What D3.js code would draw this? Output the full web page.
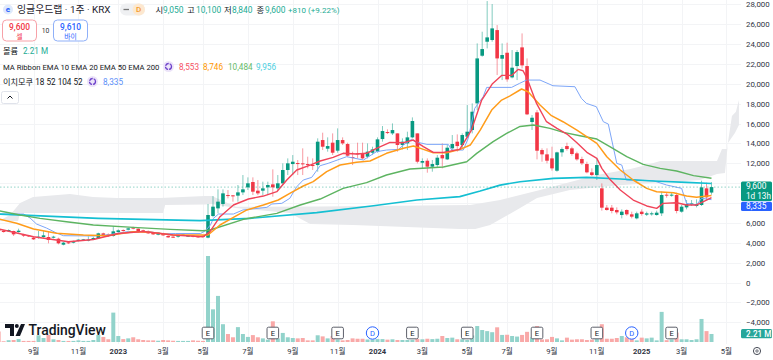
<!DOCTYPE html>
<html><head><meta charset="utf-8">
<script src="https://cdn.jsdelivr.net/npm/d3@7"></script>
<style>
html,body{margin:0;padding:0;background:#fff;overflow:hidden}
svg{display:block}
text{font-family:Roboto,'Noto Sans CJK KR',sans-serif}
</style></head><body>
<svg id="c" width="773" height="360"></svg>
<script>
// [open, high, low, close] per weekly bar
const candles=[
[5300,5400,5200,5250],[5215,5280,5015,5080],[5150,5350,5080,5280],[5180,5215,4678,4846],[5080,5416,5015,5215],[4846,4900,4580,4712],[4745,4780,4580,4645],[4510,4580,4276,4343],[4477,5180,4410,4610],[4578,5180,4510,4745],
[4578,5180,3940,4276],[4510,4700,4440,4610],[4410,4510,3840,3941],[3806,4075,3740,4008],[4041,4075,3870,3941],[4008,4210,3940,4176],[4176,4343,4140,4310],[4276,4380,4210,4343],[4243,4650,4140,4310],[4343,4610,4276,4477],
[4444,5013,4410,4946],[4946,5013,4610,4678],[4846,4946,4578,4678],[4678,5684,4610,5147],[5080,5350,5013,5248],[5280,5350,5113,5180],[5315,5516,5248,5449],[5550,5616,5350,5416],[5416,5450,5013,5080],[5248,5315,5080,5147],
[5180,5248,4880,4946],[5013,5080,4780,4846],[4812,5080,4745,5013],[4946,5013,4678,4745],[4678,4745,4477,4544],[4610,4678,4477,4544],[4610,4780,4510,4712],[4745,4880,4678,4812],[4645,4780,4578,4712],[4712,4780,4544,4610],
[4645,4712,4477,4544],[4712,4780,4510,4578],[4512,7900,4445,6792],[6690,8700,6560,7630],[7460,9375,6960,8135],[7900,9375,7630,8970],[8800,9305,8470,8700],[8770,8800,8135,8700],[8740,9810,8135,9070],[9070,10815,8800,9375],
[9575,10580,9305,9980],[10110,10580,8800,9140],[9240,10310,8800,8970],[9240,10145,8800,9475],[9575,10145,8800,9810],[9875,11385,8635,9575],[9475,10815,9305,9980],[9980,11990,9810,11320],[11320,12490,10815,11990],[11920,12825,10815,12155],
[12020,12325,10815,11955],[11990,13500,10815,11920],[11920,12660,11485,11855],[11820,12490,11320,11755],[11820,14505,11150,14170],[14335,15075,13330,13665],[13465,14605,13165,13730],[14070,15005,12825,13060],[13265,15510,13060,14335],[14335,14605,13835,14000],
[13935,14070,12660,12760],[12625,13165,11820,12560],[12995,14070,12490,12930],[12995,14070,12390,12490],[12660,14000,12490,13165],[13060,13665,12825,13395],[13165,14605,13060,14405],[14435,15745,14170,15240],[15140,15410,14940,15040],[15005,16010,14840,15340],
[15005,15005,13165,13835],[13835,14505,13395,14170],[14000,15175,13330,14605],[14605,16615,14505,16250],[15005,15005,11990,12155],[12055,12490,11485,12225],[12255,12490,11050,11655],[11655,12325,11150,11920],[11820,12825,11555,12560],[12825,14000,11485,12490],
[12390,13835,12325,13565],[13500,14840,13165,13935],[14170,14905,13165,13730],[13830,15005,13500,14840],[14670,17857,14500,15175],[15343,18025,15005,17187],[18025,24060,17355,22550],[22820,25235,22720,23490],[24230,28320,23560,24665],[24400,28020,24230,25570],
[25400,25905,20875,22550],[22520,24060,20370,22890],[23120,24130,20205,20440],[20640,23390,20540,21615],[21780,23390,20370,23190],[23660,25065,21545,21850],[21780,22550,16850,16920],[16150,16850,15345,16580],[17120,17355,12390,13260],[13330,13500,12155,12895],
[12895,13500,11990,12255],[12490,13665,11250,11485],[11250,13160,11150,13095],[13095,13600,12660,13430],[13730,14070,13265,13430],[13500,13665,12760,12930],[12995,13160,12255,12390],[12425,12660,11820,11990],[11920,12155,10985,11085],[11085,11485,10715,10815],
[10815,12490,10315,11820],[9475,9975,7228,7530],[7530,7800,7228,7295],[7530,7800,6960,7195],[7295,7560,6860,7060],[6790,7360,6455,7128],[7295,7360,6725,6860],[6860,7128,6455,6625],[6455,7128,6355,6960],[7128,7360,6725,6890],
[6825,7128,6690,6960],[6860,7128,6725,6960],[6790,7228,6725,7028],[6960,9140,6690,8804],[8838,9040,8535,8737],[8770,9040,8636,8838],[8804,9040,6960,7195],[7128,7800,7028,7630],[7560,8300,7360,7900],[7830,8300,7700,7965],
[7700,8370,7560,7900],[7800,10245,7700,9575],[9475,10045,8300,8570],[9050,10100,8840,9600]
];
// volume in millions per weekly bar
const volumes=[2.9,.2,.5,.55,.8,.3,.3,.3,1.85,1.1,2,.75,.55,.3,.3,.3,.45,.3,.3,.55,1.95,1.4,.75,8.1,1.65,.8,1,1.3,.75,.55,.45,.45,.35,.55,.45,.35,.3,.3,.3,.45,.35,.3,
23.7,9,12.7,4.9,2.2,1.3,4.1,2.2,1.4,1.9,1.3,1,.65,5.7,1,2.5,1.3,1.1,1,1.1,.45,.45,1.85,1.55,1,1.65,.7,.45,.55,1,.9,.9,.7,.7,.8,.8,.65,.75,.55,.55,.55,.6,.8,.75,.9,.8,.9,1.65,1.1,1.2,.75,.75,.55,1.8,
4.4,3.3,3,2.7,4.05,1.95,2,1.65,1.5,1.95,2.8,1.3,4.4,.7,.75,1.4,1,.45,1.2,.65,.75,.75,.55,.65,.8,4.9,.9,.9,1.1,1.65,1.3,.8,.45,1.2,1,1.2,.45,8.3,.5,.7,2.6,.75,.75,.55,.75,6.35,3,2.21];

// line readings: [bar position, price]
const ema10=[[0,5380],[7,4607],[14,4105],[19,4330],[24,4930],[29,5130],[35,4780],[41,4607],[42.4,5116],[44.4,6625],[47.1,7800],[50.1,8400],[53.1,8700],[55.8,9140],[57.8,10310],[59.8,11320],[62.5,11820],[64.5,12225],[67.1,12590],[69.1,13000],[71.8,12930],[73.8,13000],[75.8,13500],[78.5,14100],[81.2,14070],[83.2,14335],[85.2,13665],[87.2,13095],[89.2,13095],[92.5,13400],[94.85,15340],[96.9,18360],[99,19970],[100.9,20840],[102.9,20840],[104.2,21445],[105.2,21310],[106,20540],[107.9,18025],[109.9,16180],[112,15510],[114,14940],[116,14068],[118,13095],[120,12490],[121,11486],[122.6,10380],[124.7,9307],[127.3,8300],[130,7700],[132,7460],[133.3,7965],[136,8030],[138,7800],[140,7800],[142,8300],[143,8553]];
const ema20=[[0,6388],[3.6,5955],[7,5380],[11.6,4950],[17,4780],[21.7,4710],[27,5110],[30.4,5050],[35,4780],[41,4780],[42,4780],[44.4,5785],[47.1,6560],[49.8,7300],[53.1,7800],[56.1,8300],[58.4,8970],[61.1,9710],[63.1,10145],[65.8,11150],[68.5,11820],[71.8,12090],[74.5,12225],[77.8,13000],[81.2,13500],[83.2,13730],[85.2,13400],[87.2,13060],[89.9,13060],[92.6,13400],[94.6,13830],[96.6,15340],[98.9,17355],[100.9,18360],[102.5,18760],[104.9,19470],[106.2,19200],[108.6,17860],[110.9,16785],[113.2,16180],[116,15340],[120,14000],[122,12660],[124.7,11320],[127.3,10315],[130,9475],[132,9140],[135.4,9040],[138,8700],[140,8570],[143,8746]];
const ema50=[[0,7220],[4.3,6790],[8.3,6455],[13.6,6120],[19,5785],[27,5550],[34.4,5350],[41,5210],[42.4,5280],[49.1,6360],[55.8,6960],[60.5,7800],[64.5,8400],[69.1,9475],[73.8,10045],[77.8,10815],[82.5,11420],[85.9,11520],[89.2,11620],[93.9,12155],[95.9,12995],[99.2,14170],[101.9,15005],[104.6,15700],[107.3,15845],[110.6,15510],[113.3,15107],[116.6,14770],[120,14437],[122.6,13666],[126,12660],[129.3,11890],[132.7,11486],[136,11218],[139.4,10750],[143,10484]];
const ema200=[[0,6890],[20,6455],[40.4,6222],[50.4,6457],[63.8,7027],[75.2,7730],[83.9,8300],[92.5,8640],[96.6,9200],[100.6,9800],[104.6,10145],[111.3,10480],[118,10580],[124.7,10413],[131.3,10212],[138,10078],[143,9956]];
const ichimoku=[[0,6890],[5,6890],[6.3,6490],[7.6,5885],[9.6,5480],[11.6,4980],[13,4710],[19,4680],[22,4800],[26,5130],[30,5130],[33,4900],[35.5,4930],[40.5,4930],[41.5,5210],[42.5,5800],[43.1,6457],[44.1,6890],[47.1,6890],[49,7300],[53.8,7560],[54.8,7900],[56.8,7965],[58.4,8470],[59.8,9640],[61.1,10310],[62.8,10580],[64.5,11755],[66.1,11990],[69.8,12660],[73.2,12325],[74.2,12660],[75.8,13165],[77.8,13330],[80.2,13395],[81.2,13835],[82.8,14400],[83.5,14170],[85.9,13900],[90.2,13900],[90.9,13330],[93.2,13330],[94.2,14500],[95.5,17520],[97.2,18700],[97.9,19635],[102.9,19635],[104.5,20040],[105.9,20370],[108.6,20370],[111.2,19800],[115.6,19700],[116.9,18530],[117.9,18025],[119.9,17690],[121.3,16180],[122.3,15945],[124,11990],[125,11820],[125.9,10315],[131.3,10245],[134,9810],[137,9475],[138,7965],[140,7800],[141,8470],[143,8335]];
const cloudUpper=[[0,6187],[2.3,6790],[4.3,7998],[6.9,8600],[14.3,8900],[18.9,8600],[23.7,8500],[32.4,8500],[41.4,8700],[42.8,8700],[47.6,7625],[64.5,7645],[94.6,7800],[100.6,8300],[108.6,9300],[120,10815],[126.7,11420],[130,11820],[132.7,12220],[144.1,12220],[145.1,13430],[146.1,13430],[147.1,16750],[147.9,17180],[148.5,18360]];
const cloudLower=[[0,6187],[3.9,6187],[4.3,6990],[33,6990],[33.4,7800],[41.4,7850],[42.8,7900],[47.6,7495],[58.4,6990],[62.5,5885],[71.1,5785],[80.5,5613],[92.5,5380],[95.6,5380],[98.6,5785],[104.6,7495],[108,8500],[114.6,9305],[122.6,9708],[130.7,10010],[140.7,10310],[144.1,10915],[145.7,11016],[146.3,14030],[147.7,15040],[148.5,15840]];

const priceTicks=d3.range(-4000,28001,2000);
const coveredTicks=[8000,10000]; // hidden behind the price badges in the reference
const monthTicks=[[7,"9월"],[16,"11월"],[24,"2023"],[33,"3월"],[41,"5월"],[50,"7월"],[59,"9월"],[68,"11월"],[76,"2024"],[85,"3월"],[94,"5월"],[102,"7월"],[111,"9월"],[120,"11월"],[129,"2025"],[137,"3월"],[146,"5월"]];
const earnings=[42,55,68,83,94,108,120,135];
const dividends=[75,127];
const lastClose=9600, lastIchi=8335, lastVol=2.21;

const GREEN="#089981",RED="#f23645";
const svg=d3.select("#c");
const x=d3.scaleLinear().domain([0,143]).range([-1.35,711.5]);
const y=d3.scaleLinear().domain([-4000,28000]).range([322.25,4.25]);
const v=d3.scaleLinear().domain([0,23.7]).range([342,256]);
const line=d3.line().x(d=>x(d[0])).y(d=>y(d[1]));

// grid
const grid=svg.append("g").attr("stroke","#f3f4f6").attr("stroke-width",1);
grid.selectAll(".h").data(priceTicks).join("line").attr("x1",0).attr("x2",741)
  .attr("y1",d=>Math.round(y(d))+.5).attr("y2",d=>Math.round(y(d))+.5);
grid.selectAll(".v").data(monthTicks).join("line").attr("y1",0).attr("y2",344)
  .attr("x1",d=>Math.round(x(d[0]))+.5).attr("x2",d=>Math.round(x(d[0]))+.5);

// volume
svg.append("g").selectAll("rect").data(volumes).join("rect")
  .attr("x",(d,i)=>x(i)-2).attr("width",4).attr("y",d=>v(d)).attr("height",d=>342-v(d))
  .attr("fill",(d,i)=>candles[i][3]>=candles[i][0]?"#92d3cb":"#f9a9a8");

// cloud
const cloud=cloudUpper.concat(cloudLower.slice().reverse());
svg.append("path").attr("d",line(cloud)+"Z").attr("fill","#e8e9ec");

// candles
const cg=svg.append("g").selectAll("g").data(candles).join("g");
cg.append("line").attr("x1",(d,i)=>x(i)).attr("x2",(d,i)=>x(i)).attr("y1",d=>y(d[1])).attr("y2",d=>y(d[2]))
  .attr("stroke",d=>d[3]>=d[0]?GREEN:RED).attr("stroke-width",1).attr("stroke-opacity",.5);
cg.append("rect").attr("x",(d,i)=>x(i)-1.8).attr("width",3.6)
  .attr("y",d=>y(Math.max(d[0],d[3]))).attr("height",d=>Math.max(1,Math.abs(y(d[0])-y(d[3]))))
  .attr("fill",d=>d[3]>=d[0]?GREEN:RED);

// indicator lines
const lines=[[ichimoku,"#7da6f8",1],[ema200,"#14bfd2",1.6],[ema50,"#5db461",1.4],[ema20,"#ff9c1a",1.5],[ema10,"#f04459",1.4]];
lines.forEach(([d,c,w])=>svg.append("path").attr("d",line(d)).attr("fill","none").attr("stroke",c).attr("stroke-width",w).attr("stroke-linejoin","round"));

// price line
svg.append("line").attr("x1",0).attr("x2",741).attr("y1",y(lastClose)).attr("y2",y(lastClose))
  .attr("stroke",GREEN).attr("stroke-opacity",.55).attr("stroke-width",.8).attr("stroke-dasharray","1.5 2");

// right axis
const ay=svg.append("g").attr("transform","translate(741,0)")
  .call(d3.axisRight(y).tickValues(priceTicks.filter(d=>!coveredTicks.includes(d))).tickSize(0).tickPadding(5).tickFormat(d=>(d<0?"−":"")+d3.format(",")(Math.abs(d))));
ay.select(".domain").remove();
ay.selectAll("text").attr("fill","#30343f").style("font-size","7.9px").style("font-family","Roboto,sans-serif");

// bottom axis
svg.append("g").selectAll("text").data(monthTicks).join("text")
  .attr("x",d=>x(d[0])).attr("y",354).attr("text-anchor","middle").attr("fill","#30343f")
  .attr("font-size",7.6).attr("font-weight",d=>d[1].length===4?700:400).text(d=>d[1]);

// events
function marker(i,label,round){
  const g=svg.append("g").attr("transform",`translate(${x(i)},333)`);
  if(round) g.append("circle").attr("r",6.2).attr("fill","#fff").attr("stroke","#2962ff").attr("stroke-width",1);
  else g.append("rect").attr("x",-5.8).attr("y",-5.8).attr("width",11.6).attr("height",11.6).attr("rx",1.5).attr("fill","#fff").attr("stroke","#5d606b").attr("stroke-width",1);
  g.append("text").attr("text-anchor","middle").attr("y",2.8).attr("font-size",7.6).attr("fill",round?"#2962ff":"#131722").text(label);
}
earnings.forEach(i=>marker(i,"E",false));
dividends.forEach(i=>marker(i,"D",true));

// right badges
svg.append("rect").attr("x",741).attr("y",181.5).attr("width",31).attr("height",19.5).attr("rx",1.5).attr("fill",GREEN);
svg.append("rect").attr("x",741).attr("y",201.7).attr("width",31).attr("height",9.3).attr("rx",1.5).attr("fill","#2962ff");
svg.append("rect").attr("x",741).attr("y",329).attr("width",31).attr("height",9.3).attr("rx",1.5).attr("fill","#26a69a");
function t(px,py,s,o={}){const e=svg.append("text").attr("x",px).attr("y",py).attr("font-size",o.size||7.6).attr("fill",o.fill||"#131722").text(s);
  if(o.weight)e.attr("font-weight",o.weight); if(o.anchor)e.attr("text-anchor",o.anchor); return e;}
t(746,189.3,d3.format(",")(lastClose),{fill:"#fff",size:8.4});
t(746,198.6,"1d 13h",{fill:"#fff",size:8.2});
t(746,209.2,d3.format(",")(lastIchi),{fill:"#fff",size:8.4});
t(746,336.7,lastVol+" M",{fill:"#fff",weight:500,size:8.2});
// gear
svg.append("circle").attr("cx",757).attr("cy",351).attr("r",3.6).attr("fill","none").attr("stroke","#4a4e59").attr("stroke-width",1);
svg.append("circle").attr("cx",757).attr("cy",351).attr("r",1.2).attr("fill","none").attr("stroke","#4a4e59").attr("stroke-width",.8);

// logo
const logo=svg.append("g").attr("fill","#131722");
logo.append("path").attr("d","M5 324H14V336H10V328H5Z");
logo.append("circle").attr("cx",16.8).attr("cy",326).attr("r",2);
logo.append("path").attr("d","M21 324H25L20 336H15.5Z");
t(28.5,335,"TradingView",{size:13.9,weight:500,fill:"#131722"});

// header
svg.append("circle").attr("cx",8).attr("cy",9.5).attr("r",5).attr("fill","#dfe9fb");
t(8,12,"e",{size:8,anchor:"middle",fill:"#2962ff",weight:700});
t(17,13.3,"잉글우드랩 · 1주 · KRX",{size:9.9,fill:"#1e222d"});
svg.append("rect").attr("x",120).attr("y",3.5).attr("width",25).attr("height",12).attr("rx",6).attr("fill","#eff0f2");
svg.append("rect").attr("x",132.5).attr("y",3.5).attr("width",12.5).attr("height",12).attr("rx",6).attr("fill","#fde8cf");
svg.append("line").attr("x1",123.5).attr("x2",129).attr("y1",9.5).attr("y2",9.5).attr("stroke","#777").attr("stroke-width",1.3);
t(138.5,12.4,"D",{size:8,anchor:"middle",fill:"#f39a2e",weight:500});
const TEAL="#22ab94";
[[155.5,"시","#131722"],[163,"9,050",TEAL],[187,"고","#131722"],[196,"10,100",TEAL],[224,"저","#131722"],[232,"8,840",TEAL],[256.5,"종","#131722"],[265,"9,600",TEAL]]
  .forEach(d=>t(d[0],13,d[1],{size:8.4,fill:d[2]}));
t(288,13,"+810 (+9.22%)",{size:8,fill:TEAL});
// order buttons
svg.append("rect").attr("x",2.5).attr("y",20).attr("width",34).attr("height",21).attr("rx",4).attr("fill","#fff").attr("stroke","#f7a1a8");
svg.append("rect").attr("x",53.5).attr("y",20).attr("width",34).attr("height",21).attr("rx",4).attr("fill","#fff").attr("stroke","#8fb0f8");
t(19.5,30,"9,600",{size:8.4,anchor:"middle",fill:"#f23645",weight:500});
t(19.5,38.5,"셀",{size:6.8,anchor:"middle",fill:"#f23645"});
t(70.5,30,"9,610",{size:8.4,anchor:"middle",fill:"#2962ff",weight:500});
t(70.5,38.5,"바이",{size:6.8,anchor:"middle",fill:"#2962ff"});
t(45.5,33,"10",{size:6.8,anchor:"middle",fill:"#333"});
// legends
t(3,54,"볼륨",{size:8.2});
t(23,54,"2.21 M",{size:8.2,fill:TEAL});
t(3,69.5,"MA Ribbon EMA 10 EMA 20 EMA 50 EMA 200",{size:7.7});
[[179,"8,553","#f7525f"],[203,"8,746","#ff9800"],[228,"10,484","#66bb6a"],[256,"9,956","#4dd0e1"]].forEach(d=>t(d[0],69.5,d[1],{size:8.2,fill:d[2]}));
t(3,85,"이치모쿠 18 52 104 52",{size:8.2});
t(103,85,"8,335",{size:8.2,fill:"#5b8ff9"});
[[168.5,66.5],[92.5,81.5]].forEach(([cx,cy])=>{
  svg.append("circle").attr("cx",cx).attr("cy",cy).attr("r",5.5).attr("fill","#ece4f9");
  svg.append("circle").attr("cx",cx).attr("cy",cy).attr("r",3).attr("fill","none").attr("stroke","#6b3fc9").attr("stroke-width",1.3).attr("stroke-dasharray","4 1");
});
svg.append("rect").attr("x",1.5).attr("y",91.5).attr("width",17).attr("height",12).attr("rx",2).attr("fill","#fff").attr("stroke","#e0e3eb");
svg.append("path").attr("d","M7.5 98.5L10 96L12.5 98.5").attr("fill","none").attr("stroke","#131722");
</script></body></html>
